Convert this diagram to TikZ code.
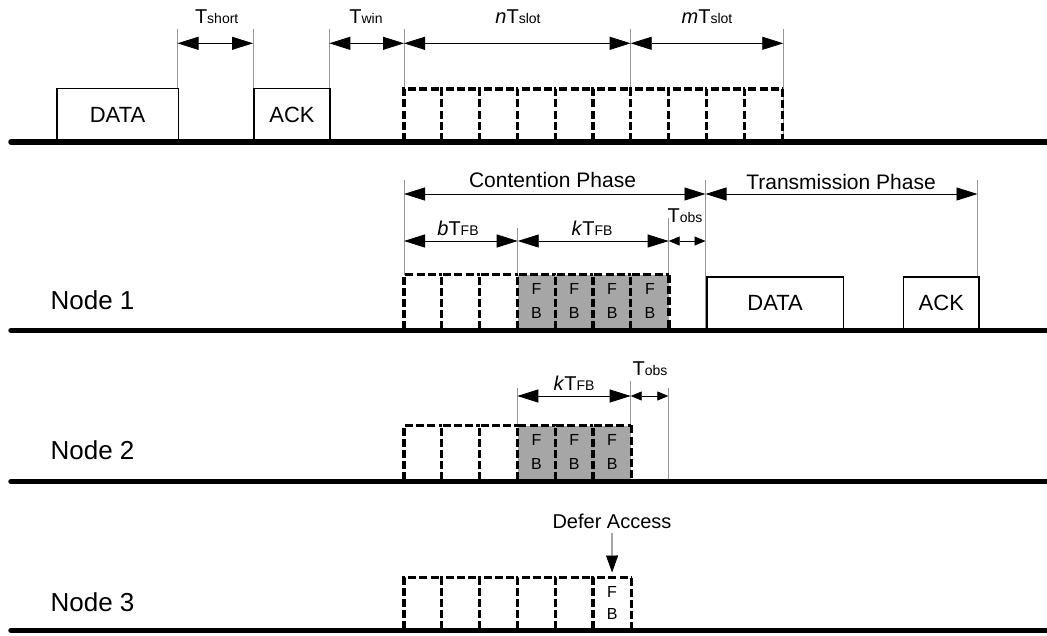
\documentclass[tikz,border=0pt]{standalone}
\usepackage{fontspec}
\setmainfont{Liberation Sans}
\usetikzlibrary{arrows.meta}
\definecolor{fbgray}{RGB}{166,166,166}
\definecolor{guidegray}{RGB}{150,150,150}
\newcommand\myfs[1]{\fontsize{#1}{#1}\selectfont}
\newcommand\tsub[2]{{\myfs{20}#1T}{\myfs{14}#2}}
\begin{document}
\begin{tikzpicture}[x=1pt,y=-1pt,
  baseln/.style={line width=5.5pt, line cap=round},
  box/.style={draw, line width=1.6pt, fill=white, anchor=south west, inner sep=0pt, font=\myfs{22}},
  slot/.style={fill=white, anchor=north west, minimum width=37.8pt, inner sep=0pt},
  fbslot/.style={slot, fill=fbgray},
  dashln/.style={line width=3.3pt, dash pattern=on 8pt off 3.2pt},
  guide/.style={draw=guidegray, line width=0.9pt},
  dim/.style={line width=0.8pt, {Triangle[length=21pt,width=13pt]}-{Triangle[length=21pt,width=13pt]}},
  dimsm/.style={line width=0.8pt, {Triangle[length=11pt,width=9pt]}-{Triangle[length=11pt,width=9pt]}},
  lbl/.style={anchor=base, inner sep=0pt, font=\myfs{21}},
  tlbl/.style={anchor=base, inner sep=0pt},
  fbt/.style={anchor=base, inner sep=0pt, font=\myfs{16}},
  nodelbl/.style={anchor=base, inner sep=0pt, font=\myfs{26}},
  deferarr/.style={line width=0.8pt, -{Triangle[length=17pt,width=12pt]}},
]
\useasboundingbox (0,0) rectangle (1047,635);

% ---------------- Row 1 (channel) ----------------
\foreach \x [count=\i] in {177.5,253,329.3,404,630.7,783.3} {
  \coordinate (r1t\i) at (\x,29.3);
  \coordinate (r1a\i) at (\x,43.3);
  \coordinate (r1b\i) at (\x,142);
  \draw[guide] (r1t\i) -- (r1b\i);
}
\coordinate (r1L) at (11,142);
\coordinate (r1R) at (1050,142);
\node[box, minimum width=121.5pt, minimum height=52.7pt] (r1data) at (56,142) {DATA};
\node[box, minimum width=76.3pt, minimum height=52.7pt] (r1ack) at (253,142) {ACK};
\foreach \i in {1,...,10} {
  \node[slot, minimum height=51.5pt] (r1s\i) at ({404+(\i-1)*37.8},89) {};
  \draw[dashln] (r1s\i.south west) -- (r1s\i.north west) -- (r1s\i.north east);
  \draw[dashln] (r1s\i.south west) -- (r1s\i.south east);
}
\draw[dashln] (r1s10.north east) -- (r1s10.south east);
\draw[baseln] (r1L) -- (r1R);
\draw[dim] (r1a1) -- (r1a2);
\draw[dim] (r1a3) -- (r1a4);
\draw[dim] (r1a4) -- (r1a5);
\draw[dim] (r1a5) -- (r1a6);
\node[tlbl] (lshort) at (216.7,23.3) {\tsub{}{short}};
\node[tlbl] (lwin) at (366,23.3) {\tsub{}{win}};
\node[tlbl] (lnslot) at (518,23.3) {\tsub{\textit{n}}{slot}};
\node[tlbl] (lmslot) at (707,23.3) {\tsub{\textit{m}}{slot}};

% ---------------- Node 1 ----------------
\foreach \x/\t [count=\i] in {404/180, 517.7/228.3, 668.7/218.3, 705.5/180, 977.5/180} {
  \coordinate (n1t\i) at (\x,\t);
  \coordinate (n1u\i) at (\x,194);
  \coordinate (n1l\i) at (\x,241);
  \coordinate (n1b\i) at (\x,330.5);
  \draw[guide] (n1t\i) -- (n1b\i);
}
\coordinate (n1L) at (11,330.5);
\coordinate (n1R) at (1050,330.5);
\node[nodelbl] (lnode1) at (92.5,309.3) {Node 1};
\foreach \i in {1,...,7} {
  \ifnum\i>3
    \node[fbslot, minimum height=54.3pt] (n1s\i) at ({404+(\i-1)*37.8},274.7) {};
    \node[fbt] (n1f\i) at ([yshift=-20pt]n1s\i.north) {F};
    \node[fbt] (n1g\i) at ([yshift=-44pt]n1s\i.north) {B};
  \else
    \node[slot, minimum height=54.3pt] (n1s\i) at ({404+(\i-1)*37.8},274.7) {};
  \fi
  \draw[dashln] (n1s\i.south west) -- (n1s\i.north west) -- (n1s\i.north east);
  \draw[dashln] (n1s\i.south west) -- (n1s\i.south east);
}
\draw[dashln] (n1s7.north east) -- (n1s7.south east);
\node[box, minimum width=136.7pt, minimum height=52.8pt] (n1data) at (706,330.5) {DATA};
\node[box, minimum width=75.6pt, minimum height=52.8pt] (n1ack) at (902.7,330.5) {ACK};
\draw[baseln] (n1L) -- (n1R);
\draw[dim] (n1u1) -- (n1u4);
\draw[dim] (n1u4) -- (n1u5);
\draw[dim] (n1l1) -- (n1l2);
\draw[dim] (n1l2) -- (n1l3);
\draw[dimsm] (n1l3) -- (n1l4);
\node[lbl] (lcont) at (552.5,187.3) {Contention Phase};
\node[lbl] (ltrans) at (841,189) {Transmission Phase};
\node[tlbl] (lbfb) at (458,235) {\tsub{\textit{b}}{FB}};
\node[tlbl] (lkfb1) at (592,235) {\tsub{\textit{k}}{FB}};
\node[tlbl] (lobs1) at (685,222) {\tsub{}{obs}};

% ---------------- Node 2 ----------------
\foreach \x/\t [count=\i] in {517.3/388, 630.7/381, 668.3/388} {
  \coordinate (n2t\i) at (\x,\t);
  \coordinate (n2a\i) at (\x,396);
  \coordinate (n2b\i) at (\x,481.5);
  \draw[guide] (n2t\i) -- (n2b\i);
}
\coordinate (n2L) at (11,481.5);
\coordinate (n2R) at (1050,481.5);
\node[nodelbl] (lnode2) at (92.5,459.3) {Node 2};
\foreach \i in {1,...,6} {
  \ifnum\i>3
    \node[fbslot, minimum height=54.7pt] (n2s\i) at ({404+(\i-1)*37.8},425.3) {};
    \node[fbt] (n2f\i) at ([yshift=-20.5pt]n2s\i.north) {F};
    \node[fbt] (n2g\i) at ([yshift=-44.5pt]n2s\i.north) {B};
  \else
    \node[slot, minimum height=54.7pt] (n2s\i) at ({404+(\i-1)*37.8},425.3) {};
  \fi
  \draw[dashln] (n2s\i.south west) -- (n2s\i.north west) -- (n2s\i.north east);
  \draw[dashln] (n2s\i.south west) -- (n2s\i.south east);
}
\draw[dashln] (n2s6.north east) -- (n2s6.south east);
\draw[baseln] (n2L) -- (n2R);
\draw[dim] (n2a1) -- (n2a2);
\draw[dimsm] (n2a2) -- (n2a3);
\node[tlbl] (lkfb2) at (574,390) {\tsub{\textit{k}}{FB}};
\node[tlbl] (lobs2) at (650,375.5) {\tsub{}{obs}};

% ---------------- Node 3 ----------------
\coordinate (n3L) at (11,630.5);
\coordinate (n3R) at (1050,630.5);
\node[nodelbl] (lnode3) at (92.5,611) {Node 3};
\foreach \i in {1,...,6} {
  \node[slot, minimum height=51.5pt] (n3s\i) at ({404+(\i-1)*37.8},577.5) {};
  \draw[dashln] (n3s\i.south west) -- (n3s\i.north west) -- (n3s\i.north east);
  \draw[dashln] (n3s\i.south west) -- (n3s\i.south east);
}
\draw[dashln] (n3s6.north east) -- (n3s6.south east);
\node[fbt] (n3f6) at ([yshift=-19.7pt]n3s6.north) {F};
\node[fbt] (n3g6) at ([yshift=-42.3pt]n3s6.north) {B};
\draw[baseln] (n3L) -- (n3R);
\node[tlbl, font=\myfs{20}] (ldefer) at (612,528.3) {Defer Access};
\draw[deferarr, shorten <=4.5pt, shorten >=5pt] (ldefer.south) -- (n3s6.north);
\end{tikzpicture}
\end{document}
